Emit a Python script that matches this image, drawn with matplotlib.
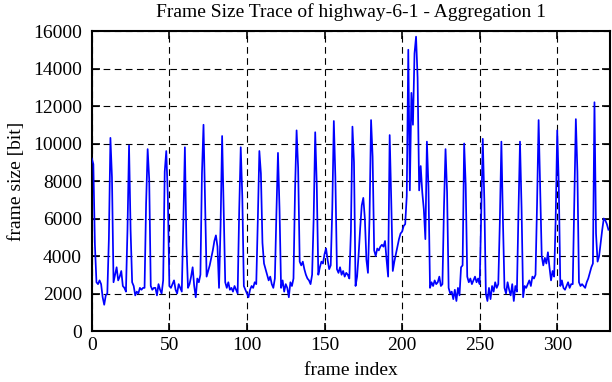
import matplotlib

matplotlib.use("Agg")
import matplotlib.pyplot as plt
import numpy as np

TITLE = "Frame Size Trace of highway-6-1 - Aggregation 1"
X_LABEL = "frame index"
Y_LABEL = "frame size [bit]"
X_TICKS = [0, 50, 100, 150, 200, 250, 300]
Y_TICKS = [0, 2000, 4000, 6000, 8000, 10000, 12000, 14000, 16000]

# frame sizes in bit, one row per 12-frame GOP
frame_size_bits = [
    9200, 8900, 4600, 2600, 2500, 2700, 2500, 1800, 1400, 1900, 2000, 4900,
    10300, 8200, 2600, 3000, 3400, 2700, 2900, 3200, 2400, 2300, 2100, 5400,
    9900, 5400, 2600, 2400, 1900, 2100, 2000, 2300, 2200, 2300, 2300, 6800,
    9700, 8100, 2400, 2200, 2300, 2300, 1900, 2500, 2200, 2000, 2700, 8500,
    9600, 7200, 2400, 2300, 2500, 2700, 2200, 2000, 2500, 2300, 2100, 5800,
    9800, 4600, 2300, 2500, 2900, 3400, 2400, 1800, 2800, 2600, 3000, 8400,
    11000, 7000, 2900, 3200, 3500, 3900, 4300, 4800, 5100, 4500, 2300, 5600,
    10400, 6500, 2600, 2300, 2600, 2200, 2300, 2100, 2400, 2200, 2000, 6400,
    9800, 7200, 2400, 2200, 2000, 1800, 2200, 2400, 2300, 2600, 2500, 5900,
    9600, 8400, 4700, 3600, 3300, 3000, 2700, 2900, 2500, 2300, 2800, 6300,
    9500, 6500, 2300, 2700, 2100, 2500, 2300, 1800, 2600, 2400, 2800, 7500,
    10700, 8700, 3700, 3500, 3700, 3300, 3000, 2800, 2700, 2500, 3000, 6000,
    10600, 7800, 3000, 3400, 3700, 3600, 4100, 4400, 3800, 3300, 3500, 6500,
    11200, 8200, 3300, 3100, 3400, 3000, 3200, 2900, 3100, 3000, 2800, 5300,
    10900, 9000, 2400, 2900, 4100, 5500, 6700, 7100, 6000, 3800, 3100, 6000,
    11250, 9300, 4300, 4000, 4400, 4300, 4500, 4600, 4500, 4800, 3800, 2900,
    10450, 7000, 3200, 3700, 4100, 4500, 4900, 5200, 5300, 5600, 5700, 7200,
    15000, 7500, 12700, 11000, 14800, 15700, 13500, 7500, 8800, 7400, 6500, 4900,
    10100, 7700, 2300, 2600, 2400, 2700, 2500, 2600, 2900, 2400, 2500, 6600,
    9700, 7400, 2300, 2000, 2100, 1700, 2200, 1600, 2300, 1900, 3400, 3500,
    10000, 7800, 2900, 2600, 2800, 2500, 2700, 2900, 2600, 2800, 2500, 6200,
    10250, 7000, 2000, 1600, 2300, 1700, 2400, 2100, 2600, 2300, 2500, 5800,
    10100, 5900, 2300, 2000, 2600, 2200, 1900, 2500, 1600, 2400, 2100, 6300,
    10100, 6600, 1800, 2400, 2300, 2500, 2700, 2400, 2900, 2800, 3000, 6800,
    11250, 7500, 4000, 3500, 3900, 3600, 4200, 3400, 2700, 3200, 2900, 6000,
    10700, 7800, 2400, 2700, 2300, 2200, 2400, 2600, 2300, 2500, 2500, 7000,
    11300, 8500, 2600, 2400, 2500, 2400, 2300, 2600, 2800, 3100, 3400, 3600,
    12200, 5200, 3700, 4000, 4700, 5400, 6000, 5900, 5700, 5400,
]
frame_index = np.arange(len(frame_size_bits))

plt.rcParams["font.family"] = ["Liberation Serif", "DejaVu Serif"]

fig = plt.figure(figsize=(6.12, 3.82), dpi=100)
ax = fig.add_axes([0.150, 0.1335, 0.8467, 0.7853])

ax.plot(frame_index, frame_size_bits, color="#0000ff", lw=1.25, zorder=3)

ax.set_xlim(0, 334)
ax.set_ylim(0, 16000)
ax.set_xticks(X_TICKS)
ax.set_yticks(Y_TICKS)
ax.grid(True, color="black", lw=0.8, linestyle=(0, (6, 4)), zorder=1)
ax.tick_params(direction="in", length=6, width=1.2, top=True, right=True,
               labelsize=14, colors="black")
ax.tick_params(axis="x", pad=4)
ax.tick_params(axis="y", pad=7)
for s in ax.spines.values():
    s.set_linewidth(1.5)

ax.set_title(TITLE, fontsize=14, pad=10)
ax.set_xlabel(X_LABEL, fontsize=14, labelpad=6)
ax.set_ylabel(Y_LABEL, fontsize=14, labelpad=6)

fig.savefig("out.png", dpi=100)
